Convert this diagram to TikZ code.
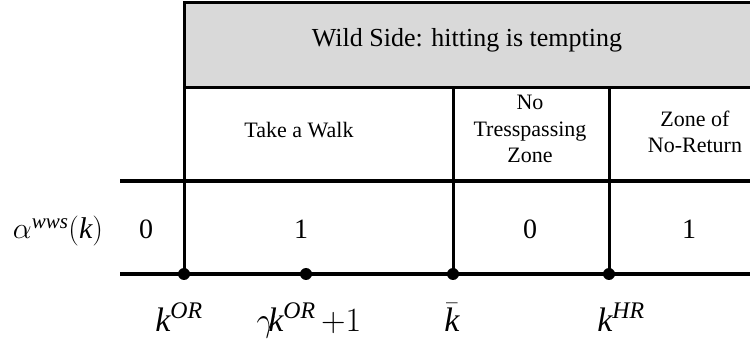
\RequirePackage{fix-cm}
\documentclass[tikz,border=0pt]{standalone}
\usepackage{fontspec}
\setmainfont{Liberation Serif}

\begin{document}
\begin{tikzpicture}[x=1pt,y=-1pt,
  rule/.style={line width=4pt},
  grid/.style={line width=3pt},
  knot/.style={circle,fill=black,inner sep=0pt,minimum size=12pt},
  head/.style={font=\fontsize{26}{30}\selectfont,anchor=base},
  zone/.style={font=\fontsize{22}{26.5}\selectfont,align=center,inner sep=0pt},
  val/.style={font=\fontsize{28}{32}\selectfont,anchor=base},
  tick/.style={font=\fontsize{34}{40}\selectfont,anchor=base,inner sep=1pt}]
\useasboundingbox (0,0) rectangle (750,339);
\fill[black!15] (184,3) rectangle (750,88);
\coordinate (top) at (184,3);
\coordinate (rowtop) at (120,181);
\coordinate (rowbot) at (120,274);
\node[knot] (kor) at (184,274) {};
\node[knot] (walk) at (306,274) {};
\node[knot] (kbar) at (453,274) {};
\node[knot] (khr) at (609,274) {};
\draw[grid] (750,3) -- (top) -- (kor.center);
\draw[grid] (184,88) -- (750,88);
\draw[grid] (453,88) -- (kbar.center);
\draw[grid] (609,88) -- (khr.center);
\draw[rule] (rowtop) -- (750,181);
\draw[rule] (rowbot) -- (750,274);
\node[head] (wild) at (467,47) {Wild Side: hitting is tempting};
\node[zone] (take) at (299,130.5) {Take a Walk};
\node[zone] (notres) at (530,129) {No\\Tresspassing\\Zone};
\node[zone] (noret) at (695,132) {Zone of\\No-Return};
\node[val,font=\fontsize{30}{36}\selectfont] (alpha) at (58,239) {$\alpha^{\mathit{wws}}(\mathit{k})$};
\node[val] (v0) at (146,239) {0};
\node[val] (v1) at (301,239) {1};
\node[val] (v2) at (530,239) {0};
\node[val] (v3) at (689,239) {1};
\node[tick] (lkor) at (179,331) {$\mathit{k}^{\mathit{OR}}$};
\node[tick] (lwalk) at (309,331) {$\gamma\mkern-4mu\mathit{k}^{\mathit{OR}}\,{+}1$};
\node[tick] (lkbar) at (452,331) {$\bar{\mathit{k}}$};
\node[tick] (lkhr) at (621,331) {$\mathit{k}^{\mathit{HR}}$};
\end{tikzpicture}
\end{document}
